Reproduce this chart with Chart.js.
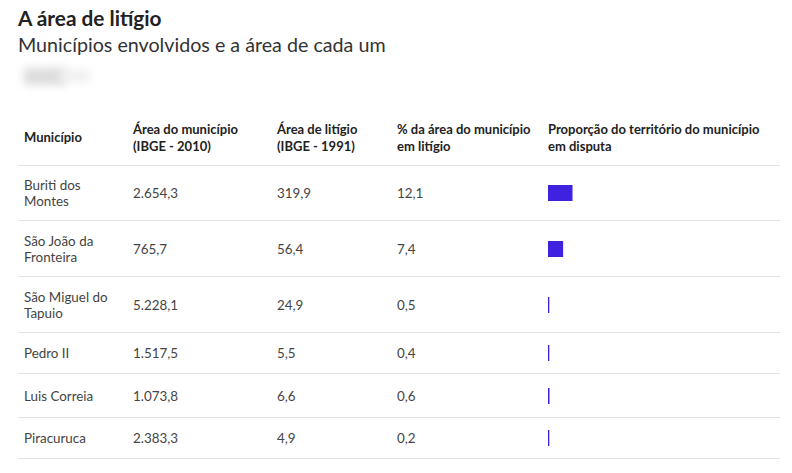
<!DOCTYPE html>
<html>
<head>
<meta charset="utf-8">
<script src="https://cdn.jsdelivr.net/npm/chart.js@4"></script>
<style>
  body { margin: 0; background: #fff; font-family: Lato, "Open Sans", sans-serif; width: 792px; height: 473px; overflow: hidden; position: relative; }
  h1 { position: absolute; left: 18px; top: 6px; margin: 0; font-size: 20.8px; font-weight: 700; color: #222; line-height: 24px; }
  h2 { position: absolute; left: 18px; top: 33px; margin: 0; font-size: 19.7px; font-weight: 400; color: #333; line-height: 24px; }
  .logo { position: absolute; left: 24px; top: 68px; width: 42px; height: 17px; background: #dcdcdc; filter: blur(4px); }
  .logo2 { position: absolute; left: 60px; top: 70px; width: 30px; height: 12px; background: #f0f0f0; filter: blur(4px); }
  table { position: absolute; left: 18px; top: 110px; width: 762px; border-collapse: collapse; table-layout: fixed; }
  th, td { text-align: left; vertical-align: middle; padding: 0 14px 0 5px; border-bottom: 1px solid #e2e2e2; }
  th { font-size: 13px; font-weight: 700; color: #222; line-height: 17px; height: 55px; padding-right: 2px; }
  td { font-size: 13.4px; color: #444; line-height: 16px; }
  td:first-child, th:first-child { padding-left: 6px; }
  td.bar { padding: 0 0 0 5px; }
  canvas { display: block; }
</style>
</head>
<body>
<h1>A área de litígio</h1>
<h2>Municípios envolvidos e a área de cada um</h2>
<div class="logo"></div>
<div class="logo2"></div>
<table id="tbl">
  <colgroup>
    <col style="width:110px"><col style="width:144px"><col style="width:120px"><col style="width:151px"><col style="width:237px">
  </colgroup>
  <thead><tr id="head"></tr></thead>
  <tbody id="body"></tbody>
</table>
<script>
const headers = ['Município', 'Área do município (IBGE - 2010)', 'Área de litígio (IBGE - 1991)', '% da área do município em litígio', 'Proporção do território do município em disputa'];
const municipios = ['Buriti dos Montes', 'São João da Fronteira', 'São Miguel do Tapuio', 'Pedro II', 'Luis Correia', 'Piracuruca'];
const areaMunicipio = [2654.3, 765.7, 5228.1, 1517.5, 1073.8, 2383.3];
const areaLitigio = [319.9, 56.4, 24.9, 5.5, 6.6, 4.9];
const pctLitigio = [12.1, 7.4, 0.5, 0.4, 0.6, 0.2];
const rowHeights = [55, 56, 56, 41, 44, 41];

function fmt(v) {
    const parts = v.toFixed(1).split('.');
    const int = parts[0].replace(/\B(?=(\d{3})+(?!\d))/g, '.');
    return int + ',' + parts[1];
}

const head = document.getElementById('head');
headers.forEach(h => {
    const th = document.createElement('th');
    th.textContent = h;
    head.appendChild(th);
});

const body = document.getElementById('body');
municipios.forEach((m, i) => {
    const tr = document.createElement('tr');
    tr.style.height = rowHeights[i] + 'px';
    [m, fmt(areaMunicipio[i]), fmt(areaLitigio[i]), fmt(pctLitigio[i])].forEach(t => {
        const td = document.createElement('td');
        td.textContent = t;
        tr.appendChild(td);
    });
    const td = document.createElement('td');
    td.className = 'bar';
    const cv = document.createElement('canvas');
    cv.width = 200;
    cv.height = 16;
    td.appendChild(cv);
    tr.appendChild(td);
    body.appendChild(tr);

    new Chart(cv, {
        type: 'bar',
        data: {
            labels: [m],
            datasets: [{
                data: [pctLitigio[i]],
                backgroundColor: '#3f22e0',
                barPercentage: 1,
                categoryPercentage: 1,
                minBarLength: 1
            }]
        },
        options: {
            indexAxis: 'y',
            responsive: false,
            animation: false,
            layout: { padding: 0 },
            plugins: { legend: { display: false }, tooltip: { enabled: false } },
            scales: {
                x: { display: false, min: 0, max: 100 },
                y: { display: false }
            }
        }
    });
});
</script>
</body>
</html>
